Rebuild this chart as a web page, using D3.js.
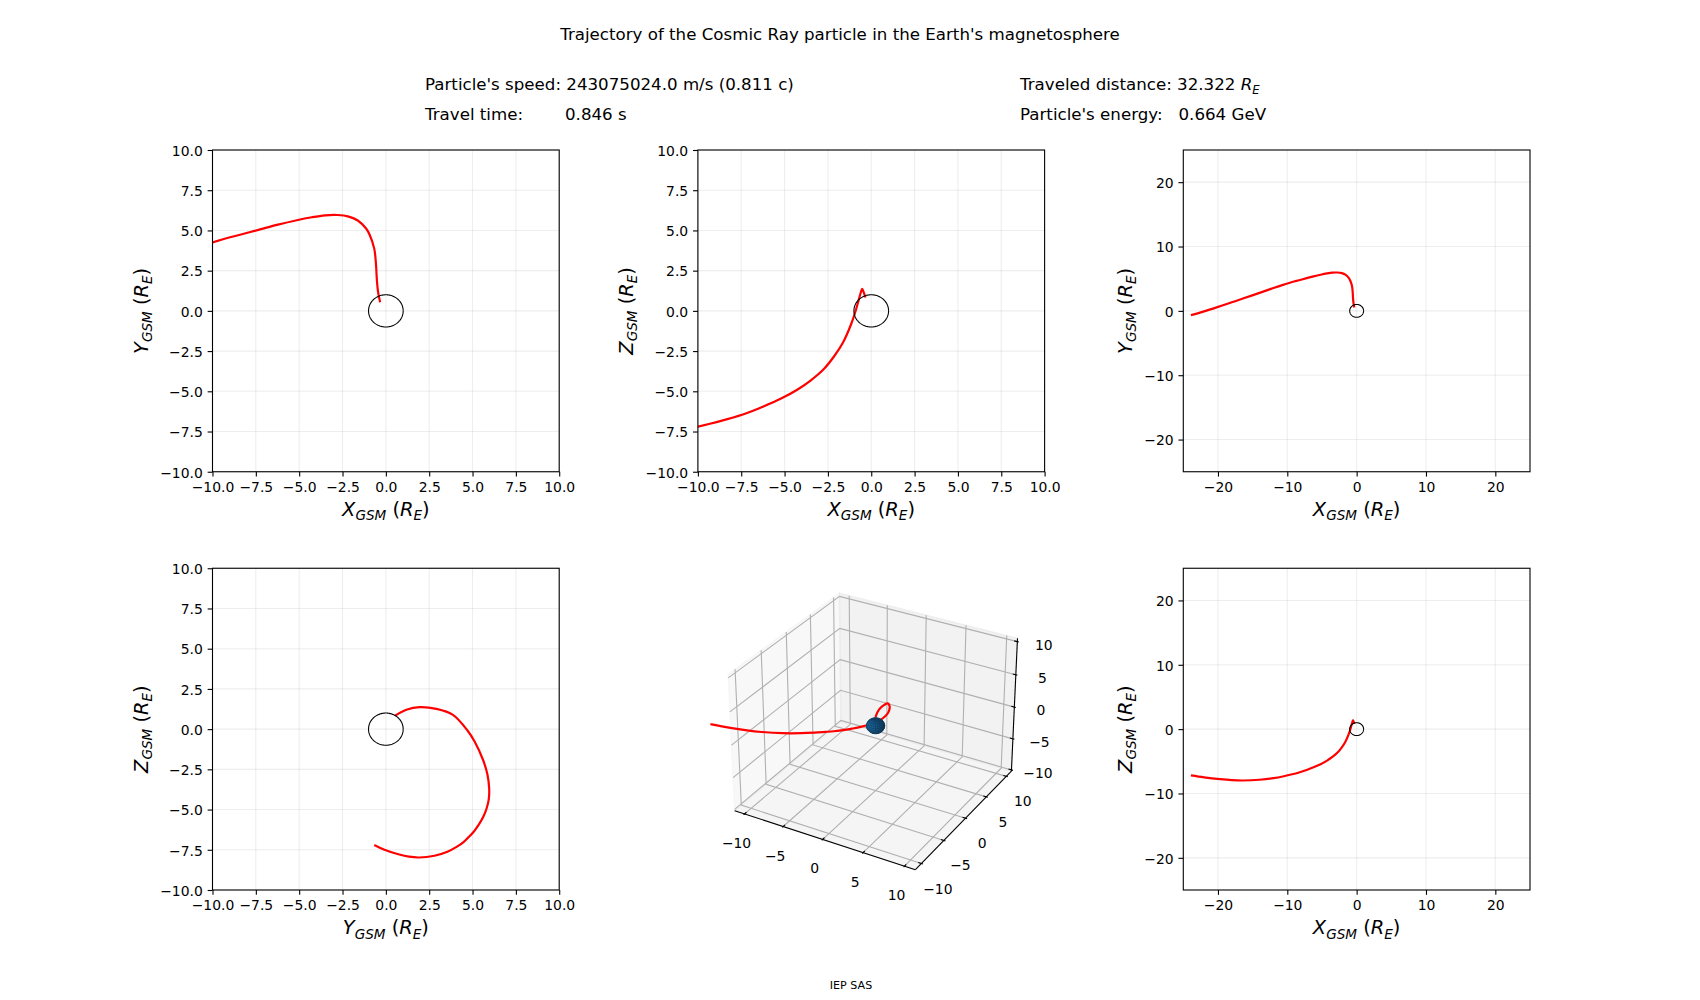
<!DOCTYPE html>
<html><head><meta charset="utf-8">
<script src="https://cdn.jsdelivr.net/npm/d3@7"></script>
<style>
body{margin:0;background:#fff}
svg{display:block}
text{font-family:"DejaVu Sans",sans-serif;fill:#000;white-space:pre}
</style></head>
<body><svg id="c" width="1700" height="1000"></svg>
<script>
// ---------------- data ----------------
const trajX = [-0.33,-0.45,-0.52,-0.57,-0.67,-0.93,-1.14,-1.62,-2.14,-2.79,-3.5,-4.27,-5.2,-6.22,-7.2,-8.3,-9.3,-10.5,-12.0,-14.0,-16.4,-18.0,-19.7,-22.0,-23.9];
const trajY = [0.53,1.18,1.95,2.91,3.87,4.72,5.12,5.62,5.86,5.96,5.94,5.82,5.62,5.36,5.08,4.76,4.48,4.08,3.55,2.8,1.92,1.33,0.72,-0.08,-0.67];
const trajZ = [0.83,1.2,1.37,1.26,0.89,-0.1,-0.77,-1.95,-2.82,-3.68,-4.33,-4.9,-5.45,-5.94,-6.36,-6.73,-7.02,-7.32,-7.62,-7.87,-7.98,-7.93,-7.78,-7.5,-7.2];
const earthR = 1;
const ticksNarrow = [-10,-7.5,-5,-2.5,0,2.5,5,7.5,10];
const labelsNarrow = ["\u221210.0","\u22127.5","\u22125.0","\u22122.5","0.0","2.5","5.0","7.5","10.0"];
const ticksWide = [-20,-10,0,10,20];
const labelsWide = ["\u221220","\u221210","0","10","20"];
const ticks3d = [-10,-5,0,5,10];
const labels3d = ["\u221210","\u22125","0","5","10"];
const titleText = "Trajectory of the Cosmic Ray particle in the Earth's magnetosphere";
const speedText = "Particle's speed: 243075024.0 m/s (0.811 c)";
const timeLabel = "Travel time:", timeValue = "0.846 s";
const distLabel = "Traveled distance: 32.322 ";
const energyLabel = "Particle's energy:", energyValue = "0.664 GeV";
const footerText = "IEP SAS";

// ---------------- layout ----------------
const W = 1700, H = 1000;
const sp = {left:0.125,right:0.9,bottom:0.11,top:0.85,wspace:0.4,hspace:0.3};
const colW = (sp.right-sp.left)*W/(3+2*sp.wspace), gapW = colW*sp.wspace;
const rowH = (sp.top-sp.bottom)*H/(2+sp.hspace), gapH = rowH*sp.hspace;
const cell = (r,c) => ({x: sp.left*W + c*(colW+gapW), y:(1-sp.top)*H + r*(rowH+gapH), w:colW, h:rowH});
const FS_TICK = 13.9, FS_LABEL = 19.4, FS_HEAD = 16.67, TICK = 4.86, PAD = 4.86;

const svg = d3.select("#c");
const defs = svg.append("defs");

function addMath(t, parts, size){
  let cur = 0; const sh = size*0.22;
  parts.forEach(([s,it,sub])=>{
    const ts = t.append("tspan").text(s);
    if(it) ts.attr("font-style","italic");
    if(sub) ts.attr("font-size", size*0.7);
    const target = sub ? sh : 0;
    if(target !== cur){ ts.attr("dy", target-cur); cur = target; }
  });
}
const axLabel = (L) => [[L,true,false],["GSM",true,true],[" (",false,false],["R",true,false],["E",true,true],[")",false,false]];

// ---------------- header ----------------
svg.append("text").attr("x",840).attr("y",40).attr("text-anchor","middle").attr("font-size",FS_HEAD).text(titleText);
svg.append("text").attr("x",425).attr("y",90).attr("font-size",FS_HEAD).text(speedText);
const tt = svg.append("text").attr("y",120).attr("font-size",FS_HEAD);
tt.append("tspan").attr("x",425).text(timeLabel);
tt.append("tspan").attr("x",565).text(timeValue);
const dt = svg.append("text").attr("x",1020).attr("y",90).attr("font-size",FS_HEAD);
addMath(dt, [[distLabel,false,false],["R",true,false],["E",true,true]], FS_HEAD);
const et = svg.append("text").attr("y",120).attr("font-size",FS_HEAD);
et.append("tspan").attr("x",1020).text(energyLabel);
et.append("tspan").attr("x",1178.5).text(energyValue);
svg.append("text").attr("x",851).attr("y",989).attr("text-anchor","middle").attr("font-size",11.1).text(footerText);

// ---------------- 2D panels ----------------
const series = {x:trajX, y:trajY, z:trajZ};
const panels = [
  {r:0,c:0,h:"x",v:"y",wide:false,xl:"X",yl:"Y"},
  {r:0,c:1,h:"x",v:"z",wide:false,xl:"X",yl:"Z"},
  {r:0,c:2,h:"x",v:"y",wide:true, xl:"X",yl:"Y"},
  {r:1,c:0,h:"y",v:"z",wide:false,xl:"Y",yl:"Z"},
  {r:1,c:2,h:"x",v:"z",wide:true, xl:"X",yl:"Z"}
];
panels.forEach((p,pi)=>{
  const b = cell(p.r,p.c);
  const dom = p.wide ? [-25,25] : [-10,10];
  const tv = p.wide ? ticksWide : ticksNarrow;
  const tl = p.wide ? labelsWide : labelsNarrow;
  const x = d3.scaleLinear().domain(dom).range([b.x, b.x+b.w]);
  const y = d3.scaleLinear().domain(dom).range([b.y+b.h, b.y]);
  const g = svg.append("g");
  const cid = "clip"+pi;
  defs.append("clipPath").attr("id",cid).append("rect").attr("x",b.x).attr("y",b.y).attr("width",b.w).attr("height",b.h);
  // grid
  g.append("g").selectAll("line").data(tv).join("line")
    .attr("x1",d=>x(d)).attr("x2",d=>x(d)).attr("y1",b.y).attr("y2",b.y+b.h)
    .attr("stroke","#b0b0b0").attr("stroke-opacity",0.22).attr("stroke-width",1.1);
  g.append("g").selectAll("line").data(tv).join("line")
    .attr("y1",d=>y(d)).attr("y2",d=>y(d)).attr("x1",b.x).attr("x2",b.x+b.w)
    .attr("stroke","#b0b0b0").attr("stroke-opacity",0.22).attr("stroke-width",1.1);
  // trajectory
  const hs = series[p.h], vs = series[p.v];
  const pts = hs.map((d,i)=>[d, vs[i]]);
  g.append("path").attr("clip-path",`url(#${cid})`)
    .attr("d", d3.line().x(d=>x(d[0])).y(d=>y(d[1])).curve(d3.curveCatmullRom.alpha(0.5))(pts))
    .attr("fill","none").attr("stroke","#ff0000").attr("stroke-width",2.2).attr("stroke-linejoin","round");
  // earth circle
  const circ = d3.range(0,361,3).map(a=>[earthR*Math.cos(a*Math.PI/180), earthR*Math.sin(a*Math.PI/180)]);
  g.append("path").attr("clip-path",`url(#${cid})`)
    .attr("d", d3.line().x(d=>x(d[0])).y(d=>y(d[1]))(circ))
    .attr("fill","none").attr("stroke","#000").attr("stroke-width",1.1);
  // axes
  const ax = g.append("g").attr("transform",`translate(0,${b.y+b.h})`)
    .call(d3.axisBottom(x).tickValues(tv).tickFormat((d,i)=>tl[i]).tickSize(TICK).tickPadding(PAD).tickSizeOuter(0));
  const ay = g.append("g").attr("transform",`translate(${b.x},0)`)
    .call(d3.axisLeft(y).tickValues(tv).tickFormat((d,i)=>tl[i]).tickSize(TICK).tickPadding(PAD).tickSizeOuter(0));
  [ax,ay].forEach(a=>{
    a.attr("font-family",null).attr("font-size",null);
    a.select(".domain").remove();
    a.selectAll("line").attr("stroke","#000").attr("stroke-width",1.1);
    a.selectAll("text").attr("font-size",FS_TICK).attr("fill","#000");
  });
  ax.selectAll("text").attr("dy",null).attr("y",TICK+PAD+0.76*FS_TICK);
  ay.selectAll("text").attr("dy","0.38em");
  g.append("rect").attr("x",b.x).attr("y",b.y).attr("width",b.w).attr("height",b.h)
    .attr("fill","none").attr("stroke","#000").attr("stroke-width",1.1);
  let maxW = 0;
  ay.selectAll("text").each(function(){ maxW = Math.max(maxW, this.getBBox().width); });
  // labels
  const xlt = g.append("text").attr("x",b.x+b.w/2).attr("y",b.y+b.h+TICK+PAD+0.995*FS_TICK+5.56+0.76*FS_LABEL+0.5)
    .attr("text-anchor","middle").attr("font-size",FS_LABEL);
  addMath(xlt, axLabel(p.xl), FS_LABEL);
  const ylx = b.x - TICK - PAD - maxW - 5.56 - 7;
  const ylt = g.append("text").attr("transform",`translate(${ylx},${b.y+b.h/2}) rotate(-90)`)
    .attr("text-anchor","middle").attr("font-size",FS_LABEL);
  addMath(ylt, axLabel(p.yl), FS_LABEL);
});

// ---------------- 3D panel ----------------
(function(){
  const b = cell(1,1);
  const size = Math.min(b.w,b.h);
  const left = b.x + (b.w-size)/2, top = b.y + (b.h-size)/2;
  const sx = d3.scaleLinear().domain([-0.095,0.09]).range([left,left+size]);
  const sy = d3.scaleLinear().domain([-0.095,0.09]).range([top+size,top]);
  const lim = {x:[-11.3,11.3], y:[-11.3,11.3], z:[-10.2,10.5]};
  const kBox = 1.8294640721620434*25/24/Math.hypot(4,4,3);
  const box = [4*kBox,4*kBox,3*kBox];
  const wx = d3.scaleLinear().domain(lim.x).range([0,box[0]]);
  const wy = d3.scaleLinear().domain(lim.y).range([0,box[1]]);
  const wz = d3.scaleLinear().domain(lim.z).range([0,box[2]]);
  const elev = 30*Math.PI/180, azim = -60*Math.PI/180;
  const ps = [Math.cos(elev)*Math.cos(azim), Math.cos(elev)*Math.sin(azim), Math.sin(elev)];
  const cross=(a,c)=>[a[1]*c[2]-a[2]*c[1], a[2]*c[0]-a[0]*c[2], a[0]*c[1]-a[1]*c[0]];
  const dot=(a,c)=>a[0]*c[0]+a[1]*c[1]+a[2]*c[2];
  const nrm=a=>{const n=Math.hypot(...a);return a.map(v=>v/n);};
  const uu = nrm(cross([0,0,1],ps)), vv = cross(ps,uu), ww = ps;
  const Rc = box.map(v=>v/2);
  const eye = Rc.map((r,i)=>r+10*ps[i]);
  function proj(X,Y,Z){
    const d = [wx(X)-eye[0], wy(Y)-eye[1], wz(Z)-eye[2]];
    const vz = dot(ww,d);
    return [sx(dot(uu,d)/(-vz)), sy(dot(vv,d)/(-vz)), vz];
  }
  const g = svg.append("g");
  defs.append("clipPath").attr("id","clip3d").append("rect").attr("x",left).attr("y",top).attr("width",size).attr("height",size);
  const [x0,x1] = lim.x, [y0,y1] = lim.y, [z0,z1] = lim.z;
  const line2 = d3.line();
  const P = (a)=>a.map(q=>proj(...q).slice(0,2));
  // panes
  const panes = [
    {pts:[[x0,y0,z0],[x0,y1,z0],[x0,y1,z1],[x0,y0,z1]], c:"rgba(242,242,242,0.5)"},
    {pts:[[x0,y1,z0],[x1,y1,z0],[x1,y1,z1],[x0,y1,z1]], c:"rgba(230,230,230,0.5)"},
    {pts:[[x0,y0,z0],[x1,y0,z0],[x1,y1,z0],[x0,y1,z0]], c:"rgba(236,236,236,0.5)"}
  ];
  panes.forEach(pn=>{
    g.append("path").attr("d", line2(P(pn.pts))+"Z").attr("fill",pn.c).attr("stroke",pn.c).attr("stroke-width",1.39);
  });
  // grid
  const gl = g.append("g").attr("fill","none").attr("stroke","#b0b0b0").attr("stroke-width",1.1);
  ticks3d.forEach(t=>{
    gl.append("path").attr("d", line2(P([[t,y0,z0],[t,y1,z0],[t,y1,z1]])));
    gl.append("path").attr("d", line2(P([[x1,t,z0],[x0,t,z0],[x0,t,z1]])));
    gl.append("path").attr("d", line2(P([[x0,y0,t],[x0,y1,t],[x1,y1,t]])));
  });
  // axis lines
  const al = g.append("g").attr("stroke","#000").attr("stroke-width",1.1).attr("fill","none");
  al.append("path").attr("d", line2(P([[x0,y0,z0],[x1,y0,z0]])));
  al.append("path").attr("d", line2(P([[x1,y0,z0],[x1,y1,z0]])));
  al.append("path").attr("d", line2(P([[x1,y1,z0],[x1,y1,z1]])));
  const dY = (y1-y0)/12, dX = (x1-x0)/12;
  ticks3d.forEach((t,i)=>{
    al.append("path").attr("d", line2(P([[t,y0-0.1*dY,z0],[t,y0+0.2*dY,z0]])));
    al.append("path").attr("d", line2(P([[x1+0.1*dX,t,z0],[x1-0.2*dX,t,z0]])));
    al.append("path").attr("d", line2(P([[x1+0.1*dX,y1,t],[x1-0.2*dX,y1,t]])));
    const px = proj(t,y0,z0), py = proj(x1,t,z0), pz = proj(x1,y1,t);
    g.append("text").attr("x",px[0]-8).attr("y",px[1]+29).attr("dy","0.36em").attr("text-anchor","middle").attr("font-size",FS_TICK).text(labels3d[i]);
    g.append("text").attr("x",py[0]+16.5).attr("y",py[1]+25).attr("dy","0.36em").attr("text-anchor","middle").attr("font-size",FS_TICK).text(labels3d[i]);
    g.append("text").attr("x",pz[0]+26.5).attr("y",pz[1]+3).attr("dy","0.36em").attr("text-anchor","middle").attr("font-size",FS_TICK).text(labels3d[i]);
  });
  // trajectory
  const tp = trajX.map((d,i)=>proj(d,trajY[i],trajZ[i]));
  g.append("path").attr("clip-path","url(#clip3d)")
    .attr("d", d3.line().x(d=>d[0]).y(d=>d[1]).curve(d3.curveCatmullRom.alpha(0.5))(tp))
    .attr("fill","none").attr("stroke","#ff0000").attr("stroke-width",2.2).attr("stroke-linejoin","round");
  // earth sphere
  const nLat = 12, nLon = 24;
  const L = [-0.6667,-0.6667,0.3333];
  const sph = (th,ph)=>[earthR*Math.sin(th)*Math.cos(ph), earthR*Math.sin(th)*Math.sin(ph), earthR*Math.cos(th)];
  const faces = [];
  for(let i=0;i<nLat;i++) for(let j=0;j<nLon;j++){
    const t0=i*Math.PI/nLat, t1=(i+1)*Math.PI/nLat, p0=j*2*Math.PI/nLon, p1=(j+1)*2*Math.PI/nLon;
    const vs = [sph(t0,p0),sph(t1,p0),sph(t1,p1),sph(t0,p1)];
    const n = nrm(sph((t0+t1)/2,(p0+p1)/2));
    const pr = vs.map(v=>proj(...v));
    const depth = d3.mean(pr,q=>q[2]);
    const shade = dot(n,L);
    const f = 0.3 + 0.7*(shade+1)/2;
    faces.push({pr, depth, f});
  }
  faces.sort((a,c)=>a.depth-c.depth);
  const sg = g.append("g").attr("clip-path","url(#clip3d)");
  faces.forEach(fc=>{
    const col = `rgb(${Math.round(31*fc.f)},${Math.round(119*fc.f)},${Math.round(180*fc.f)})`;
    sg.append("path").attr("d", line2(fc.pr.map(q=>[q[0],q[1]]))+"Z")
      .attr("fill",col).attr("stroke","#123a5a").attr("stroke-width",0.35);
  });
})();
</script></body></html>
